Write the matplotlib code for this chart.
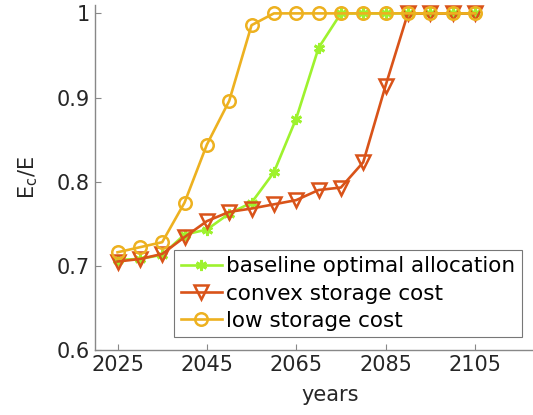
import numpy as np
import matplotlib
matplotlib.use("Agg")
import matplotlib.pyplot as plt

years = np.arange(2025, 2106, 5)

baseline = [0.707, 0.708, 0.713, 0.737, 0.743, 0.762, 0.775, 0.811, 0.875, 0.959,
            1.0, 1.0, 1.0, 1.0, 1.0, 1.0, 1.0]
convex = [0.705, 0.708, 0.714, 0.734, 0.753, 0.764, 0.768, 0.773, 0.778, 0.790,
          0.793, 0.823, 0.914, 1.0, 1.0, 1.0, 1.0]
low_cost = [0.716, 0.722, 0.728, 0.775, 0.844, 0.896, 0.986, 1.0, 1.0, 1.0,
            1.0, 1.0, 1.0, 1.0, 1.0, 1.0, 1.0]

plt.rcParams['font.family'] = 'DejaVu Sans'
fig = plt.figure(figsize=(5.33, 4.15), dpi=100)
ax = fig.add_axes([0.1786, 0.157, 0.88, 0.831])

ax.plot(years, baseline, '-', color='#9ef22e', lw=1.9,
        marker=(6, 2, 0), ms=8, mew=2.0, label='baseline optimal allocation')
ax.plot(years, convex, '-', color='#d95319', lw=1.9,
        marker='v', ms=10, mfc='none', mew=1.8, label='convex storage cost')
ax.plot(years, low_cost, '-', color='#edb120', lw=1.9,
        marker='o', ms=9, mfc='none', mew=1.8, label='low storage cost')

ax.set_xlim(2020, 2125)
ax.set_ylim(0.6, 1.01)
ax.set_xticks([2025, 2045, 2065, 2085, 2105])
ax.set_yticks([0.6, 0.7, 0.8, 0.9, 1.0])
ax.set_yticklabels(['0.6', '0.7', '0.8', '0.9', '1'])

for s in ['top', 'right']:
    ax.spines[s].set_visible(False)
for s in ['left', 'bottom']:
    ax.spines[s].set_color('#888888')
    ax.spines[s].set_linewidth(1.0)
ax.tick_params(direction='in', length=4, width=0.8, color='#888888',
               labelsize=15, labelcolor='#262626', pad=4)

ax.set_xlabel('years', fontsize=15, color='#262626', labelpad=7)
ax.set_ylabel(r'E$_\mathregular{c}$/E', fontsize=15, color='#262626', labelpad=12)

leg = ax.legend(loc='lower left', bbox_to_anchor=(0.1687, 0.037), fontsize=15.5,
                frameon=True, fancybox=False, borderpad=0.3, labelspacing=0.33,
                handlelength=1.9, handletextpad=0.2, borderaxespad=0)
leg.get_frame().set_edgecolor('#555555')
leg.get_frame().set_linewidth(0.8)

fig.savefig('out.png', dpi=100)
